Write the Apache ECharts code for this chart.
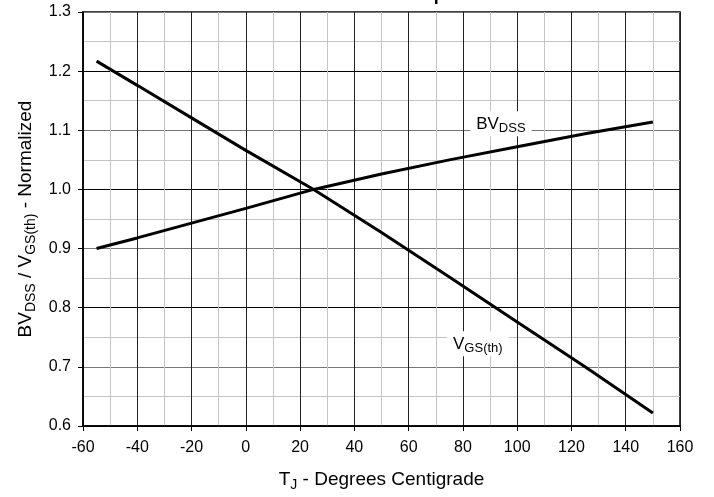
<!DOCTYPE html>
<html><head><meta charset="utf-8">
<script src="https://cdn.jsdelivr.net/npm/echarts@6/dist/echarts.min.js"></script>
<style>html,body{margin:0;padding:0;background:#fff}#c{width:714px;height:497px}</style>
</head><body><div id="c"></div>
<script>
const temps = [-55, -40, -20, 0, 25, 50, 75, 100, 125, 150];
const bvdss = [0.900, 0.918, 0.943, 0.968, 1.000, 1.026, 1.050, 1.072, 1.094, 1.114];
const vgsth = [1.217, 1.176, 1.121, 1.066, 1.000, 0.927, 0.852, 0.776, 0.700, 0.622];
const xTicks = [-60, -40, -20, 0, 20, 40, 60, 80, 100, 120, 140, 160];
const yTicks = [0.6, 0.7, 0.8, 0.9, 1.0, 1.1, 1.2, 1.3];
const labelBV = {x: 94, y: 1.111};
const labelVGS = {x: 85.5, y: 0.739};

const FONT = 'Liberation Sans, Arial, sans-serif';
function mkRich(big, small, drop) {
  return {
    m: {fontSize: big, fontFamily: FONT, color: '#000', verticalAlign: 'bottom', lineHeight: big + 4},
    s: {fontSize: small, fontFamily: FONT, color: '#000', verticalAlign: 'bottom', lineHeight: big + 4, padding: [0,0,-drop,0]}
  };
}
const nameRich = mkRich(19, 14, 3);
const noteRich = mkRich(17, 13, 2);
const chart = echarts.init(document.getElementById('c'), null, {renderer: 'canvas'});
chart.setOption({
  animation: false,
  backgroundColor: '#fff',
  graphic: [{type: 'text', left: 398, top: -14, style: {text: 'Temperature', font: 'bold 18px ' + FONT, fill: '#000'}}],
  grid: {left: 83, right: 34, top: 12, bottom: 62.5, show: true, borderColor: '#000', borderWidth: 1.5, backgroundColor: 'transparent'},
  xAxis: {
    type: 'value', min: xTicks[0], max: xTicks[xTicks.length-1], interval: 20,
    axisLine: {show: true, onZero: false, lineStyle: {color: '#000', width: 1.5}},
    axisTick: {show: true, inside: false, length: 5, lineStyle: {color: '#000'}},
    axisLabel: {margin: 14, fontSize: 16, fontFamily: FONT, color: '#000'},
    splitLine: {show: true, lineStyle: {color: '#222', width: 1}},
    minorTick: {show: false, splitNumber: 2},
    minorSplitLine: {show: true, lineStyle: {color: '#c4c4c4', width: 1}},
    name: '{m|T}{s|J}{m| - Degrees Centigrade}', nameLocation: 'middle', nameGap: 40,
    nameTextStyle: {rich: nameRich}
  },
  yAxis: {
    type: 'value', min: yTicks[0], max: yTicks[yTicks.length-1], interval: 0.1,
    axisLine: {show: true, onZero: false, lineStyle: {color: '#000', width: 1.5}},
    axisTick: {show: true, inside: false, length: 5, lineStyle: {color: '#000'}},
    axisLabel: {margin: 12, fontSize: 16, fontFamily: FONT, color: '#000', formatter: v => v.toFixed(1)},
    splitLine: {show: true, lineStyle: {color: ['#000', '#777'], width: 1}},
    minorTick: {show: false, splitNumber: 2},
    minorSplitLine: {show: true, lineStyle: {color: '#c4c4c4', width: 1}},
    name: '{m|BV}{s|DSS}{m| / V}{s|GS(th)}{m| - Normalized}', nameLocation: 'middle', nameGap: 45,
    nameTextStyle: {rich: nameRich}
  },
  series: [
    {type: 'line', data: temps.map((t,i)=>[t, bvdss[i]]), symbol: 'none', lineStyle: {color: '#000', width: 3},
     markPoint: {symbol: 'rect', symbolSize: 1, itemStyle: {color: 'transparent'},
       data: [{coord: [labelBV.x, labelBV.y]}],
       label: {show: true, position: 'inside', formatter: '{m|BV}{s|DSS}', rich: noteRich, backgroundColor: '#fff', padding: [1,6,3,6]}}},
    {type: 'line', data: temps.map((t,i)=>[t, vgsth[i]]), symbol: 'none', lineStyle: {color: '#000', width: 3},
     markPoint: {symbol: 'rect', symbolSize: 1, itemStyle: {color: 'transparent'},
       data: [{coord: [labelVGS.x, labelVGS.y]}],
       label: {show: true, position: 'inside', formatter: '{m|V}{s|GS(th)}', rich: noteRich, backgroundColor: '#fff', padding: [1,6,3,6]}}}
  ]
});
</script></body></html>
